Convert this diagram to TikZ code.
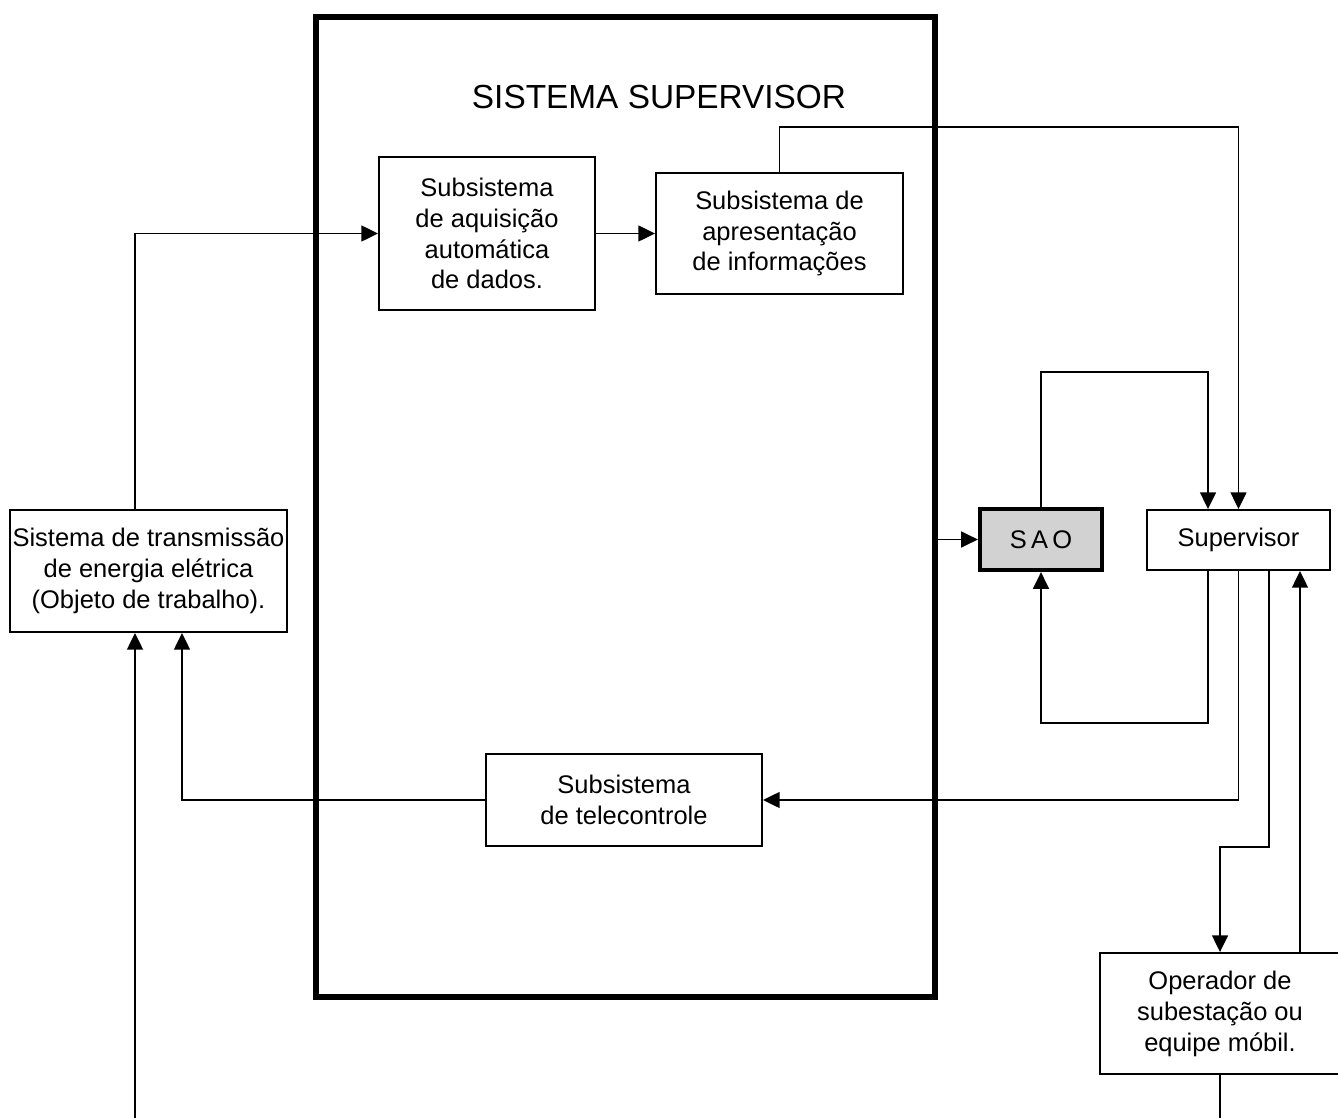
\documentclass[tikz,border=0pt]{standalone}
\usepackage{fontspec}
\setmainfont{Liberation Sans}
\usetikzlibrary{arrows.meta}

\begin{document}
\begin{tikzpicture}[x=0.02cm, y=-0.02cm,
  box/.style={draw, line width=1.1pt, align=center, inner sep=0pt,
    font=\fontsize{14.5}{17.6}\selectfont},
  line/.style={line width=1.1pt},
  arr/.style={line width=1.1pt, -{Triangle[length=9.5pt, width=9pt]}}]
  \useasboundingbox (0,0) rectangle (1338,1118);
  \node [draw, line width=3.4pt, minimum width=12.38cm, minimum height=19.6cm] (sis) at (625.5,507) {};
  \node [font=\fontsize{19}{22}\selectfont] (titulo) at (659,97) {SISTEMA SUPERVISOR};
  \node [box, minimum width=4.32cm, minimum height=3.06cm] (aqui) at (487,233.5) {Subsistema\\de aquisição\\automática\\de dados.};
  \node [box, minimum width=4.94cm, minimum height=2.42cm] (apre) at (779.5,233.5) {Subsistema de\\apresentação\\de informações};
  \node [box, minimum width=5.54cm, minimum height=2.44cm] (trans) at (148.5,571) {Sistema de transmissão\\de energia elétrica\\(Objeto de trabalho).};
  \node [box, minimum width=5.52cm, minimum height=1.84cm] (tele) at (624,800) {Subsistema\\de telecontrole};
  \node [box, line width=2.4pt, fill=gray!35, minimum width=2.44cm, minimum height=1.22cm] (sao) at (1041,539.5) {S\,A\,O};
  \node [box, minimum width=3.66cm, minimum height=1.2cm] (supv) at (1238.5,540) {Supervisor};
  \node [box, minimum width=4.8cm, minimum height=2.42cm] (oper) at (1220,1013.5) {Operador de\\subestação ou\\equipe móbil.};
  \coordinate (c1) at (0,127);
  \coordinate (c2) at (0,372);
  \coordinate (c3) at (0,723);
  \coordinate (c4) at (0,847);
  \coordinate (e1) at (135,1118);
  \coordinate (e2) at (1220,1118);

  \draw [arr] ([xshift=-0.27cm]trans.north) |- (aqui.west);
  \draw [arr] (aqui.east) -- (apre.west);
  \draw [arr] (apre.north) |- (supv.north |- c1) -- (supv.north);
  \draw [arr] (sis.east |- sao.west) -- (sao.west);
  \draw [arr] (sao.north) |- ([xshift=-0.61cm]supv.north |- c2) -- ([xshift=-0.61cm]supv.north);
  \draw [arr] ([xshift=-0.61cm]supv.south) |- (sao.south |- c3) -- (sao.south);
  \draw [arr] (supv.south) |- (tele.east);
  \draw [arr] ([xshift=0.61cm]supv.south) |- (oper.north |- c4) -- (oper.north);
  \draw [arr] ([xshift=1.6cm]oper.north) -- ([xshift=1.6cm]oper.north |- supv.south);
  \draw [line] (oper.south) -- (e2);
  \draw [arr] (tele.west) -| ([xshift=0.67cm]trans.south);
  \draw [arr] (e1) -- (e1 |- trans.south);
\end{tikzpicture}
\end{document}
